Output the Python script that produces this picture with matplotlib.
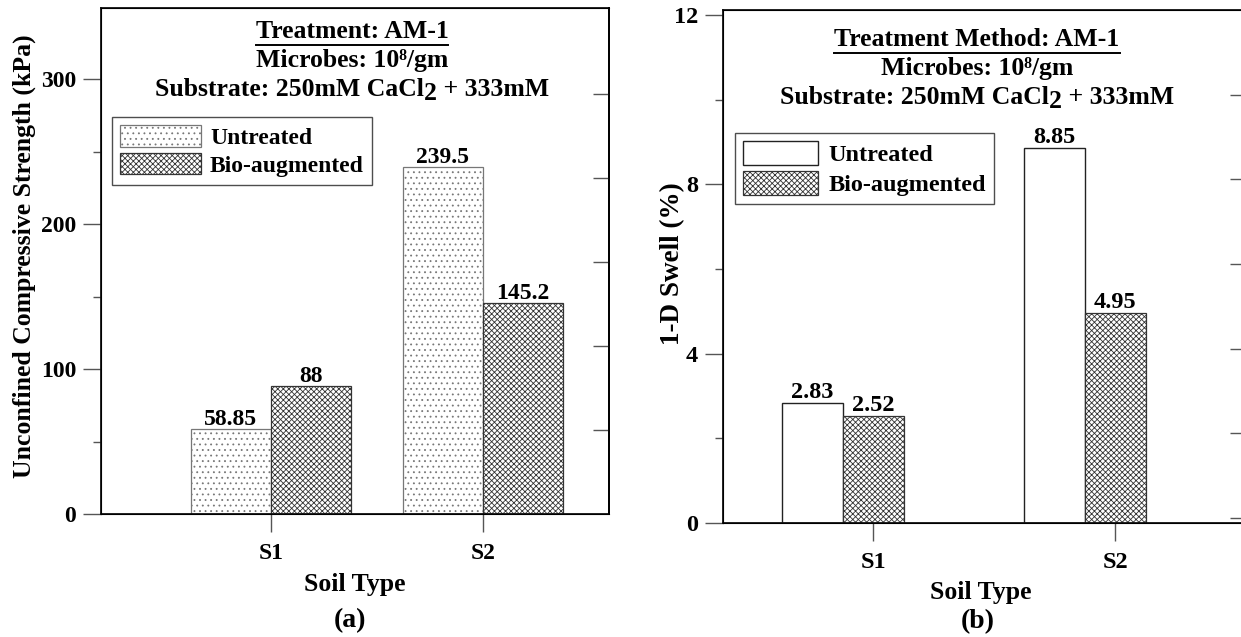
import matplotlib
matplotlib.use("Agg")
import matplotlib.pyplot as plt
from matplotlib.lines import Line2D

plt.rcParams['font.family'] = ['Liberation Serif', 'DejaVu Serif']
plt.rcParams['font.weight'] = 'bold'
plt.rcParams['hatch.linewidth'] = 0.6

# data
soils = ["S1", "S2"]
ucs_untreated = [58.85, 239.5]
ucs_bio = [88, 145.2]
swell_untreated = [2.83, 8.85]
swell_bio = [2.52, 4.95]
series = ["Untreated", "Bio-augmented"]

W, H = 1241, 637
fig = plt.figure(figsize=(W / 100, H / 100), dpi=100)


def box(l, t, r, b):
    return [l / W, 1 - b / H, (r - l) / W, (b - t) / H]


def ftext(x, y, s, fs, **kw):
    return fig.text(x / W, 1 - y / H, s, ha='center', va='center', fontsize=fs,
                    fontweight='bold', **kw)


def substrate_line(xc, y, fs):
    # "CaCl2" with the 2 dropped a little below the baseline, full size
    parts = [("Substrate: 250mM CaCl", 0), ("2", 4), (" + 333mM", 0)]
    texts = [fig.text(0, 1 - y / H, s, ha='left', va='baseline', fontsize=fs, fontweight='bold')
             for s, _ in parts]
    r = fig.canvas.get_renderer()
    widths = [t.get_window_extent(r).width for t in texts]
    x0 = xc - sum(widths) / 2
    for t, (s, dy), wd in zip(texts, parts, widths):
        t.set_position((x0 / W, 1 - (y + dy) / H))
        x0 += wd


tick_c = '#555555'


def style_axes(ax, ymax, major, minor, fs):
    ax.set_ylim(0, ymax)
    ax.set_yticks(major)
    ax.set_yticks(minor, minor=True)
    ax.tick_params(axis='y', which='major', direction='out', length=13, width=1,
                   color=tick_c, labelsize=fs, pad=5)
    ax.tick_params(axis='y', which='minor', direction='out', length=6, width=1, color=tick_c)
    ax.tick_params(axis='x', direction='out', length=13, width=1, color=tick_c,
                   labelsize=fs, pad=8)
    for s in ax.spines.values():
        s.set_linewidth(1.3)
        s.set_color('#111111')


def underline(t):
    fig.canvas.draw()
    bb = t.get_window_extent()
    y = bb.y0 - 1
    fig.add_artist(Line2D([bb.x0 / W, bb.x1 / W], [y / H, y / H], color='black', lw=1.4,
                          transform=fig.transFigure))


def bar_labels(ax, bars, vals, fmt, fs, off):
    for b, v in zip(bars, vals):
        ax.annotate(fmt.format(v), (b.get_x() + b.get_width() / 2, v), xytext=(0, off),
                    textcoords='offset points', ha='center', va='baseline',
                    fontsize=fs, fontweight='bold')


x = range(len(soils))

# ---------------- panel (a) ----------------
aL, aT, aR, aB = 101, 8, 609, 514
axA = fig.add_axes(box(aL, aT, aR, aB))
w = 0.377
bA1 = axA.bar([i - w / 2 for i in x], ucs_untreated, w, facecolor='white', edgecolor='#777777',
              hatch='...', linewidth=0.9, label=series[0])
bA2 = axA.bar([i + w / 2 for i in x], ucs_bio, w, facecolor='white', edgecolor='#333333',
              hatch='xxxxxx', linewidth=0.9, label=series[1])
bar_labels(axA, bA1, ucs_untreated, "{:g}", 17, 3)
bar_labels(axA, bA2, ucs_bio, "{:g}", 17, 3)
axA.set_xlim(-0.80, 1.594)
axA.set_xticks(list(x))
axA.set_xticklabels(soils)
style_axes(axA, 349, [0, 100, 200, 300], [50, 150, 250], 17)
legA = axA.legend(loc='upper left',
                  bbox_to_anchor=((112 - aL) / (aR - aL), (aB - 117) / (aB - aT)),
                  fontsize=17, frameon=True, fancybox=False, edgecolor='#222222',
                  handlelength=3.43, handleheight=1.05, borderpad=0.34, labelspacing=0.15,
                  handletextpad=0.38, borderaxespad=0)
legA.get_frame().set_linewidth(1.0)
twA = axA.twinx()
twA.set_ylim(0, 6.02)
twA.set_yticks([1, 2, 3, 4, 5])
twA.tick_params(axis='y', direction='in', length=11.5, width=1, color=tick_c, labelright=False)
twA.spines['right'].set_linewidth(1.3)

tA = ftext(352, 32, "Treatment: AM-1", 18.5)
ftext(352, 61, "Microbes: 10\u2078/gm", 18.5)
substrate_line(352, 96, 18.5)
ftext(24, 256, "Unconfined Compressive Strength (kPa)", 18.5, rotation=90)
ftext(355, 584, "Soil Type", 18.5)
ftext(350, 621, "(a)", 20)

# ---------------- panel (b) ----------------
bL, bT, bR, bB = 723, 10, 1246, 523
axB = fig.add_axes(box(bL, bT, bR, bB))
wb = 0.252
bB1 = axB.bar([i - wb for i in x], swell_untreated, wb, facecolor='white', edgecolor='#222222',
              linewidth=1.0, label=series[0])
bB2 = axB.bar([i for i in x], swell_bio, wb, facecolor='white', edgecolor='#333333',
              hatch='xxxxxx', linewidth=0.9, label=series[1])
bar_labels(axB, bB1, swell_untreated, "{:.2f}", 17.5, 4)
bar_labels(axB, bB2, swell_bio, "{:.2f}", 17.5, 4)
axB.set_xlim(-0.62, 1.541)
axB.set_xticks(list(x))
axB.set_xticklabels(soils)
style_axes(axB, 12.12, [0, 4, 8, 12], [2, 6, 10], 17.5)
legB = axB.legend(loc='upper left',
                  bbox_to_anchor=((735 - bL) / (bR - bL), (bB - 133) / (bB - bT)),
                  fontsize=17.5, frameon=True, fancybox=False, edgecolor='#222222',
                  handlelength=3.1, handleheight=1.15, borderpad=0.33, labelspacing=0.2,
                  handletextpad=0.41, borderaxespad=0)
legB.get_frame().set_linewidth(1.0)
twB = axB.twinx()
twB.set_ylim(-0.059, 6.0)
twB.set_yticks([0, 1, 2, 3, 4, 5])
twB.tick_params(axis='y', direction='in', length=11.5, width=1, color=tick_c, labelright=False)
twB.spines['right'].set_linewidth(1.3)

tB = ftext(977, 40, "Treatment Method: AM-1", 18.5)
ftext(977, 68, "Microbes: 10\u2078/gm", 18.5)
substrate_line(977, 104, 18.5)
ftext(673, 264, "1-D Swell (%)", 19.5, rotation=90)
ftext(981, 592, "Soil Type", 18.5)
ftext(978, 622, "(b)", 20)

underline(tA)
underline(tB)

fig.savefig("out.png", dpi=100)
